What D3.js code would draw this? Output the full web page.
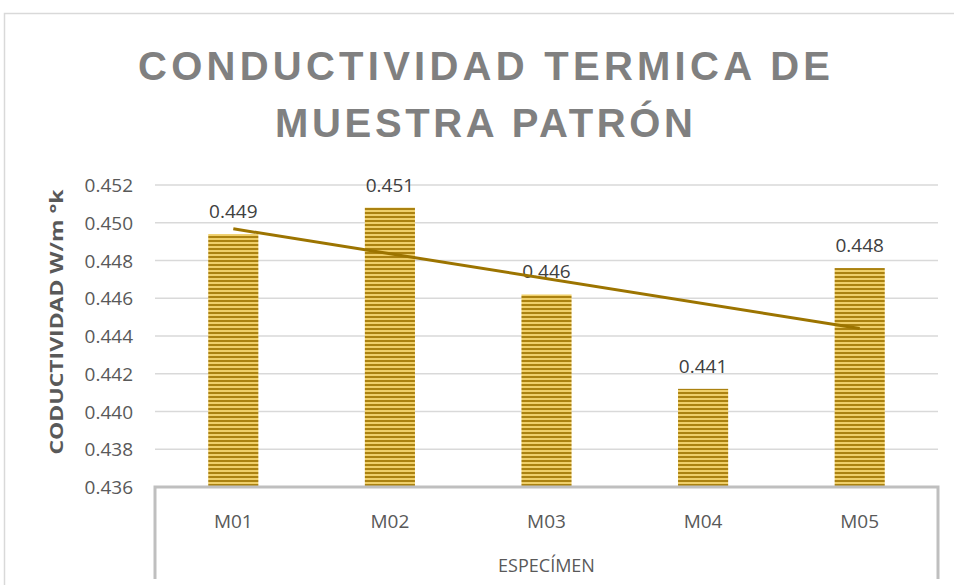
<!DOCTYPE html>
<html>
<head>
<meta charset="utf-8">
<script src="https://cdn.jsdelivr.net/npm/d3@7"></script>
<style>
  body { margin: 0; background: #fff; }
  text { font-family: "Open Sans", "Liberation Sans", sans-serif; }
</style>
</head>
<body>
<script>
// chart data
let categories = ['M01', 'M02', 'M03', 'M04', 'M05'];
let values = [0.4494, 0.4508, 0.4462, 0.4412, 0.4476];
let yTicks = [0.436, 0.438, 0.440, 0.442, 0.444, 0.446, 0.448, 0.450, 0.452];
let titleLines = ['CONDUCTIVIDAD TERMICA DE', 'MUESTRA PATRÓN'];
let yTitle = 'CODUCTIVIDAD W/m °k';
let xTitle = 'ESPECÍMEN';

let W = 954, H = 585;
let plotL = 155, plotR = 938, plotT = 185, plotB = 487;

let svg = d3.select('body')
      .append('svg')
      .attr('width', W)
      .attr('height', H);

// striped fill for the bars
let pat = svg.append('defs').append('pattern')
      .attr('id', 'stripes')
      .attr('patternUnits', 'userSpaceOnUse')
      .attr('width', 8)
      .attr('height', 4);
pat.append('rect').attr('width', 8).attr('height', 4).attr('fill', '#efcf6a');
pat.append('rect').attr('y', 0).attr('width', 8).attr('height', 2).attr('fill', '#ab8210');

// chart frame
svg.append('path')
  .attr('d', `M4.5,${H} V13.5 H${W}`)
  .style('fill', 'none')
  .style('stroke', '#d9d9d9')
  .style('stroke-width', 1.5);

let x = d3.scaleBand().domain(categories).range([plotL, plotR]).paddingInner(0.68).paddingOuter(0.34);
let y = d3.scaleLinear().domain([0.436, 0.452]).range([plotB, plotT]);

// gridlines
svg.append('g')
  .selectAll('line')
  .data(yTicks.slice(1))
  .join('line')
  .attr('x1', plotL).attr('x2', plotR)
  .attr('y1', d => y(d)).attr('y2', d => y(d))
  .style('stroke', '#d9d9d9')
  .style('stroke-width', 1.3);

// y tick labels
svg.append('g')
  .selectAll('text')
  .data(yTicks)
  .join('text')
  .attr('x', 133)
  .attr('y', d => y(d) + 7)
  .attr('text-anchor', 'end')
  .style('font-size', '19px')
  .style('fill', '#595959')
  .text(d => d.toFixed(3));

// bars
svg.append('g')
  .selectAll('rect')
  .data(values)
  .join('rect')
  .attr('x', (d, i) => x(categories[i]))
  .attr('width', x.bandwidth())
  .attr('y', d => y(d))
  .attr('height', d => plotB - y(d))
  .attr('fill', 'url(#stripes)');

// value labels
svg.append('g')
  .selectAll('text')
  .data(values)
  .join('text')
  .attr('x', (d, i) => x(categories[i]) + x.bandwidth() / 2)
  .attr('y', d => y(d) - 16)
  .attr('text-anchor', 'middle')
  .style('font-size', '19px')
  .style('fill', '#404040')
  .text(d => d.toFixed(3));

// linear trendline (least squares)
let n = values.length;
let xs = values.map((d, i) => i + 1);
let mx = d3.mean(xs), my = d3.mean(values);
let slope = d3.sum(xs, (v, i) => (v - mx) * (values[i] - my)) / d3.sum(xs, v => (v - mx) * (v - mx));
let icpt = my - slope * mx;
let trend = [
  {x: x(categories[0]) + x.bandwidth() / 2, y: y(icpt + slope * 1)},
  {x: x(categories[n - 1]) + x.bandwidth() / 2, y: y(icpt + slope * n)}
];
let lineDrawer = d3.line().x(d => d.x).y(d => d.y);
svg.append('path')
  .style('fill', 'none')
  .style('stroke', '#9c7400')
  .style('stroke-width', 3)
  .attr('d', lineDrawer(trend));

// x axis box (table style)
svg.append('path')
  .attr('d', `M${plotL},${H - 6} V${plotB} H${plotR} V${H - 6}`)
  .style('fill', 'none')
  .style('stroke', '#bfbfbf')
  .style('stroke-width', 3);

svg.append('g')
  .selectAll('text')
  .data(categories)
  .join('text')
  .attr('x', d => x(d) + x.bandwidth() / 2)
  .attr('y', 528)
  .attr('text-anchor', 'middle')
  .style('font-size', '19px')
  .style('fill', '#595959')
  .text(d => d);

svg.append('text')
  .attr('x', (plotL + plotR) / 2)
  .attr('y', 572)
  .attr('text-anchor', 'middle')
  .style('font-size', '18px')
  .style('fill', '#595959')
  .text(xTitle);

// axis title
svg.append('text')
  .attr('transform', 'translate(63,322) rotate(-90)')
  .attr('text-anchor', 'middle')
  .style('font-size', '17px')
  .style('font-weight', 'bold')
  .style('fill', '#595959')
  .attr('textLength', 265)
  .attr('lengthAdjust', 'spacingAndGlyphs')
  .text(yTitle);

// chart title
let tw = [692, 418];
svg.append('g')
  .selectAll('text')
  .data(titleLines)
  .join('text')
  .attr('x', 484)
  .attr('y', (d, i) => 80 + i * 57)
  .attr('text-anchor', 'middle')
  .attr('textLength', (d, i) => tw[i])
  .attr('lengthAdjust', 'spacing')
  .style('font-family', '"Liberation Sans", Arial, sans-serif')
  .style('font-size', '40px')
  .style('font-weight', 'bold')
  .style('fill', '#808080')
  .text(d => d);
</script>
</body>
</html>
